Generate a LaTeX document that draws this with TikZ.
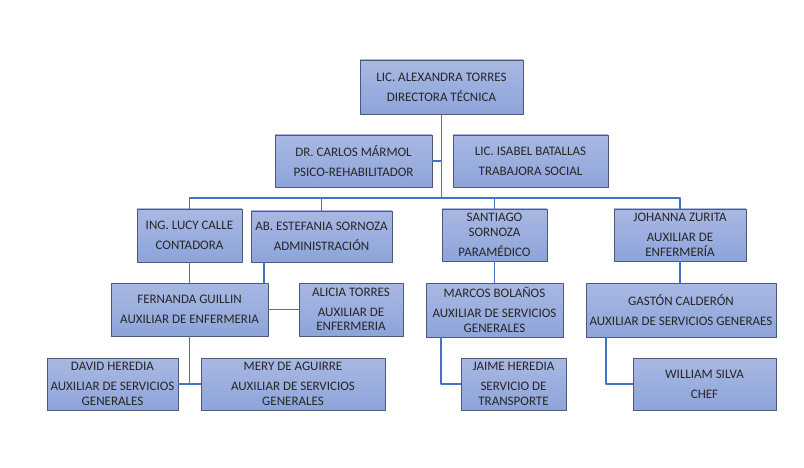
\documentclass[tikz,border=0pt]{standalone}
\usepackage{fontspec}
\setmainfont{Carlito}
\definecolor{CadreBord}{HTML}{4C5A7A}
\definecolor{CadreHaut}{HTML}{A9B8E2}
\definecolor{CadreBas}{HTML}{8DA4DA}
\definecolor{Trait}{HTML}{4472C4}
\definecolor{Texte}{HTML}{262626}
\tikzset{
  cadre/.style={draw=CadreBord,line width=0.9pt,top color=CadreHaut,bottom color=CadreBas,
    align=center,inner sep=0pt,text=Texte,
    font=\fontsize{13}{14.5}\selectfont},
  lien/.style={draw=Trait,line width=1.1pt}
}
\begin{document}
\begin{tikzpicture}[x=1pt,y=-1pt,line join=bevel]
	\useasboundingbox[fill=white] (0,0) rectangle (804,468);
	% niveau 1
	\node[cadre,minimum width=163pt,minimum height=54pt] (dir) at (441.5,87) {LIC. ALEXANDRA TORRES\\[5.5pt]DIRECTORA TÉCNICA};
	% niveau 2
	\node[cadre,minimum width=157pt,minimum height=52pt] (psico) at (353.5,161) {DR. CARLOS MÁRMOL\\[5.5pt]PSICO-REHABILITADOR};
	\node[cadre,minimum width=155pt,minimum height=52pt] (social) at (530.5,161) {LIC. ISABEL BATALLAS\\[5.5pt]TRABAJORA SOCIAL};
	% niveau 3
	\node[cadre,minimum width=105pt,minimum height=53pt] (conta) at (189.5,235.5) {ING. LUCY CALLE\\[5.5pt]CONTADORA};
	\node[cadre,minimum width=141pt,minimum height=51pt] (admin) at (321.5,236.5) {AB. ESTEFANIA SORNOZA\\[5.5pt]ADMINISTRACIÓN};
	\node[cadre,minimum width=105pt,minimum height=52pt] (para) at (494.5,235) {SANTIAGO\\SORNOZA\\[5.5pt]PARAMÉDICO};
	\node[cadre,minimum width=132pt,minimum height=52pt] (enf) at (680,235) {JOHANNA ZURITA\\[5.5pt]AUXILIAR DE\\ENFERMERÍA};
	% niveau 4
	\node[cadre,minimum width=157pt,minimum height=53pt] (guillin) at (189.5,309.5) {FERNANDA GUILLIN\\[5.5pt]AUXILIAR DE ENFERMERIA};
	\node[cadre,minimum width=104pt,minimum height=53pt] (alicia) at (351,309.5) {ALICIA TORRES\\[5.5pt]AUXILIAR DE\\ENFERMERIA};
	\node[cadre,minimum width=137pt,minimum height=54pt] (marcos) at (494.5,310) {MARCOS BOLAÑOS\\[5.5pt]AUXILIAR DE SERVICIOS\\GENERALES};
	\node[cadre,minimum width=190pt,minimum height=54pt] (gaston) at (681,310) {GASTÓN CALDERÓN\\[5.5pt]AUXILIAR DE SERVICIOS GENERAES};
	% niveau 5
	\node[cadre,minimum width=131pt,minimum height=52pt] (david) at (112.5,384) {DAVID HEREDIA\\[5.5pt]AUXILIAR DE SERVICIOS\\GENERALES};
	\node[cadre,minimum width=184pt,minimum height=52pt] (mery) at (293,384) {MERY DE AGUIRRE\\[5.5pt]AUXILIAR DE SERVICIOS\\GENERALES};
	\node[cadre,minimum width=105pt,minimum height=52pt] (jaime) at (513.5,384) {JAIME HEREDIA\\[5.5pt]SERVICIO DE\\TRANSPORTE};
	\node[cadre,minimum width=143pt,minimum height=52pt] (william) at (704.5,384) {WILLIAM SILVA\\[5.5pt]CHEF};
	% liens
	\coordinate (bus) at (441.5,198);
	\coordinate (pied) at (264,0);
	\coordinate (marcosg) at (441,0);
	\coordinate (gastong) at (606,0);
	\draw[lien] (dir.south) -- (bus);
	\draw[lien] (psico.east) -- (psico.east -| dir.south);
	\draw[lien] (conta.north) |- (bus) -| (enf.north);
	\draw[lien] (admin.north) -- (admin.north |- bus);
	\draw[lien] (para.north) -- (para.north |- bus);
	\draw[lien] (conta.south) -- (guillin.north);
	\draw[lien] (pied |- admin.south) -- (pied |- guillin.north);
	\draw[lien] (guillin.east) -- (alicia.west);
	\draw[lien] (para.south) -- (marcos.north);
	\draw[lien] (enf.south) -- (enf.south |- gaston.north);
	\draw[lien] (guillin.south) -- (guillin.south |- david.east);
	\draw[lien] (david.east) -- (mery.west);
	\draw[lien] (marcosg |- marcos.south) |- (jaime.west);
	\draw[lien] (gastong |- gaston.south) |- (william.west);
\end{tikzpicture}
\end{document}
